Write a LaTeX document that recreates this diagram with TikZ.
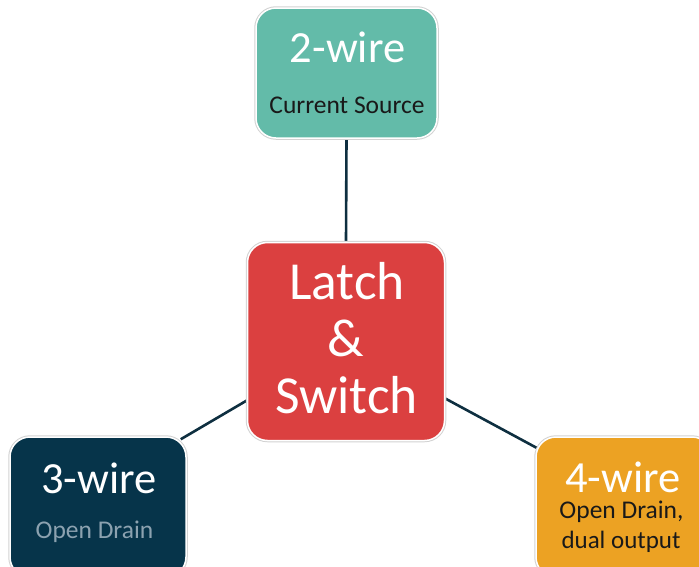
\documentclass[tikz,border=0pt]{standalone}
\usepackage{fontspec}
\setmainfont{Carlito}
\usetikzlibrary{backgrounds,calc}
\definecolor{tealbox}{RGB}{99,187,169}
\definecolor{redbox}{RGB}{219,64,64}
\definecolor{navybox}{RGB}{6,52,74}
\definecolor{orangebox}{RGB}{236,162,35}
\definecolor{connc}{RGB}{14,47,64}
\definecolor{subgray}{RGB}{140,162,176}
\definecolor{subdark}{RGB}{25,25,25}
\begin{document}
\begin{tikzpicture}[x=1pt,y=-1pt,
  box/.style={rounded corners=20pt, draw=white, line width=1.5pt,
    preaction={draw=gray!35, line width=3.5pt}, inner sep=0pt},
  conn/.style={draw=connc, line width=2.6pt},
  head/.style={anchor=base, text=white, inner sep=0pt, font=\fontsize{44.5}{44.5}\selectfont},
  big/.style={anchor=base, text=white, inner sep=0pt, font=\fontsize{53.5}{53.5}\selectfont},
  sub/.style={anchor=base, inner sep=0pt, font=\fontsize{25.5}{25.5}\selectfont}]
\useasboundingbox (0,0) rectangle (699,566);
\clip (0,0) rectangle (699,566);
% boxes
\node[box, fill=tealbox, minimum width=181pt, minimum height=130pt] (top) at (346.5,73) {};
\node[box, fill=redbox, minimum width=197pt, minimum height=198pt] (ctr) at (346,341.5) {};
\node[box, fill=navybox, minimum width=176pt, minimum height=140pt] (left) at (98,507) {};
\node[box, fill=orangebox, minimum width=176pt, minimum height=140pt] (right) at (624,507) {};
% connectors
\begin{scope}[on background layer]
\draw[conn] (ctr.north) -- (top.south);
\draw[conn] ($(ctr.west)+(0,59)$) -- ($(left.north east)+(-6,3)$);
\draw[conn] ($(ctr.east)+(0,57)$) -- ($(right.north west)+(4,13)$);
\end{scope}
% texts
\node[head] (t2) at (347.5,62) {2-wire};
\node[sub, text=subdark] (s2) at (347,113) {Current Source};
\node[big] (l1) at (347,299) {Latch};
\node[big] (l2) at (346,356) {\&};
\node[big] (l3) at (346.5,413) {Switch};
\node[head] (t3) at (99,493) {3-wire};
\node[sub, text=subgray] (s3) at (94.5,538) {Open Drain};
\node[head] (t4) at (623,492) {4-wire};
\node[sub, text=subdark] (s4a) at (621.5,518) {Open Drain,};
\node[sub, text=subdark, font=\fontsize{25}{25}\selectfont] (s4b) at (621,548) {dual output};
\end{tikzpicture}
\end{document}
